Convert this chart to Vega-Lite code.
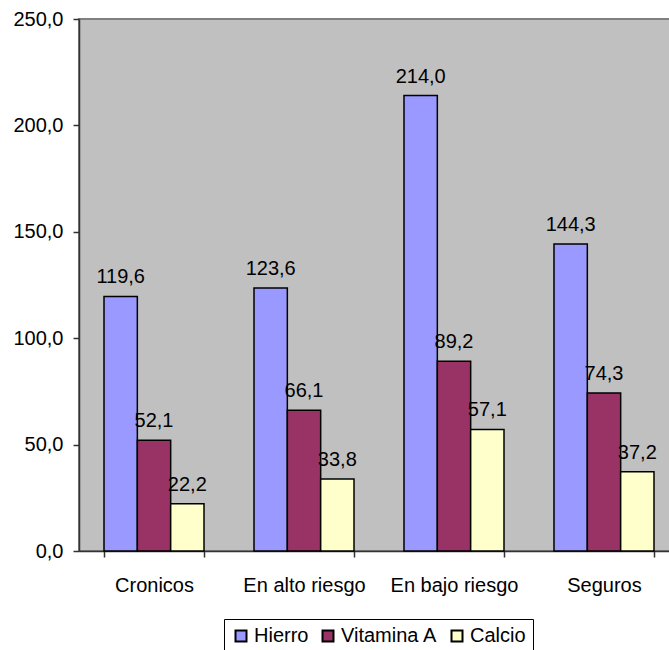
{
  "$schema": "https://vega.github.io/schema/vega-lite/v6.json",
  "width": 600,
  "height": 532,
  "autosize": {"type": "none"},
  "padding": {"left": 79, "top": 19, "right": 0, "bottom": 99},
  "background": "white",
  "config": {
    "locale": {"number": {"decimal": ",", "thousands": ".", "grouping": [3], "currency": ["", " €"]}},
    "font": "Liberation Sans",
    "view": {"fill": "#C0C0C0", "stroke": "#808080", "strokeWidth": 2}
  },
  "data": {
    "values": [
      {"grupo": "Cronicos", "nutriente": "Hierro", "valor": 119.6},
      {"grupo": "Cronicos", "nutriente": "Vitamina A", "valor": 52.1},
      {"grupo": "Cronicos", "nutriente": "Calcio", "valor": 22.2},
      {"grupo": "En alto riesgo", "nutriente": "Hierro", "valor": 123.6},
      {"grupo": "En alto riesgo", "nutriente": "Vitamina A", "valor": 66.1},
      {"grupo": "En alto riesgo", "nutriente": "Calcio", "valor": 33.8},
      {"grupo": "En bajo riesgo", "nutriente": "Hierro", "valor": 214.0},
      {"grupo": "En bajo riesgo", "nutriente": "Vitamina A", "valor": 89.2},
      {"grupo": "En bajo riesgo", "nutriente": "Calcio", "valor": 57.1},
      {"grupo": "Seguros", "nutriente": "Hierro", "valor": 144.3},
      {"grupo": "Seguros", "nutriente": "Vitamina A", "valor": 74.3},
      {"grupo": "Seguros", "nutriente": "Calcio", "valor": 37.2}
    ]
  },
  "encoding": {
    "x": {
      "field": "grupo", "type": "nominal",
      "sort": ["Cronicos", "En alto riesgo", "En bajo riesgo", "Seguros"],
      "scale": {"paddingInner": 0.3333, "paddingOuter": 0.1667},
      "axis": {
        "title": null, "labelAngle": 0, "tickBand": "extent", "tickSize": 6,
        "tickColor": "#333", "domainColor": "#333", "domainWidth": 1.5, "tickWidth": 1.5,
        "labelFontSize": 20, "labelColor": "black", "labelPadding": 18, "grid": false
      }
    },
    "xOffset": {
      "field": "nutriente", "type": "nominal",
      "sort": ["Hierro", "Vitamina A", "Calcio"],
      "scale": {"paddingInner": 0, "paddingOuter": 0}
    },
    "y": {
      "field": "valor", "type": "quantitative",
      "scale": {"domain": [0, 250], "nice": false},
      "axis": {
        "title": null, "values": [0, 50, 100, 150, 200, 250], "format": ".1f",
        "tickSize": 6, "tickColor": "#333", "domainColor": "#333", "domainWidth": 1.5, "tickWidth": 1.5,
        "labelFontSize": 20, "labelColor": "black", "labelPadding": 10, "grid": false
      }
    }
  },
  "layer": [
    {
      "mark": {"type": "bar", "stroke": "black", "strokeWidth": 1.5},
      "encoding": {
        "color": {
          "field": "nutriente", "type": "nominal",
          "scale": {"domain": ["Hierro", "Vitamina A", "Calcio"], "range": ["#9999FF", "#993366", "#FFFFCC"]},
          "legend": {
            "title": null, "orient": "none", "legendX": 145, "legendY": 600,
            "direction": "horizontal", "strokeColor": "black", "fillColor": "white",
            "padding": 7, "symbolType": "square", "symbolSize": 121,
            "symbolStrokeColor": "black", "symbolStrokeWidth": 2, "symbolOpacity": 1,
            "labelFontSize": 20, "labelColor": "black", "labelOffset": 3, "columnPadding": 9,
            "labelLimit": 300
          }
        }
      }
    },
    {
      "mark": {"type": "text", "dy": -13, "baseline": "alphabetic", "fontSize": 20, "color": "black"},
      "encoding": {"text": {"field": "valor", "type": "quantitative", "format": ".1f"}}
    }
  ]
}
